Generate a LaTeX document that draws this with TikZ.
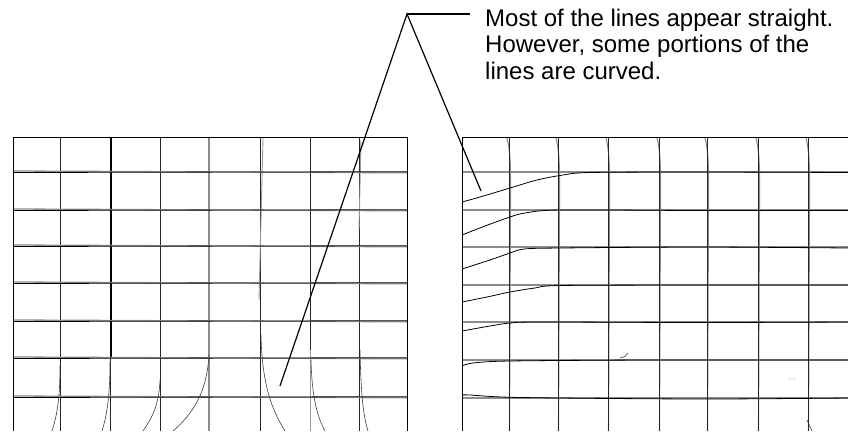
\documentclass[tikz,border=0pt]{standalone}
\usepackage{fontspec}
\setmainfont{Liberation Sans}
\begin{document}
\begin{tikzpicture}[x=1pt,y=-1pt,
  frame/.style={black,line width=1pt},
  thinline/.style={black!85,line width=0.75pt},
  grayline/.style={black!45,line width=1.3pt},
  traced/.style={black,line width=0.8pt},
  curveline/.style={black!75,line width=0.6pt},
  callout/.style={black,line width=1.2pt},
  notefont/.style={font=\fontsize{24}{26.5}\selectfont}]
\useasboundingbox (0,0) rectangle (848,431);
\clip (0,0) rectangle (848,431);

% ---------------- left grid ----------------
% vertical reference lines
\foreach \x in {60,160,260,310,359}
  \draw[thinline] (\x,137) -- (\x,431);
\draw[black,line width=1.1pt] (111,137) -- (111,358);
\draw[thinline] (110.5,358) -- (110.5,431);
\draw[grayline] (209,137) -- (209,431);
\draw[black!40,line width=0.9pt] (263,138) -- (259,300);
\draw[black!40,line width=0.9pt] (361,140) -- (359,230);
\draw[black!40,line width=0.9pt] (310,350) -- (310,431);
% horizontal lines (gray and black overlapping)
\foreach \y in {172,210,246,283,321,358,397}{
  \draw[grayline] (13,\y-1) -- (407,\y+0.8);
  \draw[traced] (13,\y+0.5) -- (407,\y-0.3);
}
% curved distorted lines at the bottom
\draw[curveline] (60,365) .. controls (60,400) and (57,415) .. (52,431);
\draw[curveline] (110,362) .. controls (110,400) and (106,418) .. (102,431);
\draw[curveline] (160,380) .. controls (159,405) and (152,418) .. (143,431);
\draw[curveline] (209,355) .. controls (207,390) and (195,412) .. (173,431);
\draw[curveline] (261,335) .. controls (262,385) and (272,410) .. (285,431);
\draw[curveline] (311,360) .. controls (312,400) and (318,418) .. (325,431);
\draw[curveline] (360,350) .. controls (361,400) and (364,418) .. (368,431);
% frame
\draw[frame] (13,431) -- (13,137) -- (407,137) -- (407,431);

% ---------------- right grid ----------------
% reference horizontals
\foreach \y in {172,210,247,285,322,360,398}
  \draw[grayline] (462,\y) -- (848,\y);
% vertical lines with gray companions
\foreach \x in {509,558,608,659,707,758,808}{
  \draw[black!45,line width=1.1pt] (\x-2,138) .. controls (\x+1,150) and (\x+2,165) .. (\x+1.5,200) -- (\x+0.5,431);
  \draw[thinline] (\x,137) -- (\x,431);
}
% traced horizontals, bent at the left side
\draw[traced] plot[smooth] coordinates {(462,202) (480,197) (510,188) (537,180) (563,175) (590,172.5) (700,172) (848,172.5)};
\draw[traced] plot[smooth] coordinates {(462,235) (485,226) (510,217) (525,213) (560,210) (700,210.5) (848,210.5)};
\draw[traced] plot[smooth] coordinates {(462,269) (490,260) (510,253) (524,249) (560,248) (700,247) (848,248)};
\draw[traced] plot[smooth] coordinates {(462,302) (487,297) (510,292) (535,288) (560,285.5) (700,285) (848,285)};
\draw[traced] plot[smooth] coordinates {(462,331) (490,326) (510,323) (540,322) (700,322.5) (848,322)};
\draw[traced] plot[smooth] coordinates {(462,366) (473,363) (510,361) (650,360) (848,360)};
\draw[traced] plot[smooth] coordinates {(462,395) (470,395) (520,397.5) (700,399) (848,398)};
% small details
\draw[curveline] (620,358) .. controls (624,357) and (627,356) .. (628,353);
\draw[curveline] (807,420) -- (812,431);
\fill[black!70] (789.5,379) circle (0.45) (792,379) circle (0.45) (794.5,379) circle (0.45);
% frame
\draw[frame] (462,431) -- (462,137) -- (848,137);

% ---------------- callout ----------------
\coordinate (apex) at (407,14);
\coordinate (tail) at (470,14);
\coordinate (ptL) at (280,386);
\coordinate (ptR) at (481,191);
\draw[callout] (ptL) -- (apex) -- (ptR);
\draw[callout] (apex) -- (tail);
\node[notefont,anchor=base west,inner sep=0pt,align=left] (note) at (485,26)
  {Most of the lines appear straight.};
\node[notefont,anchor=base west,inner sep=0pt,align=left] (note2) at (485,52.5)
  {However, some portions of the};
\node[notefont,anchor=base west,inner sep=0pt,align=left] (note3) at (485,79)
  {lines are curved.};
\end{tikzpicture}
\end{document}
